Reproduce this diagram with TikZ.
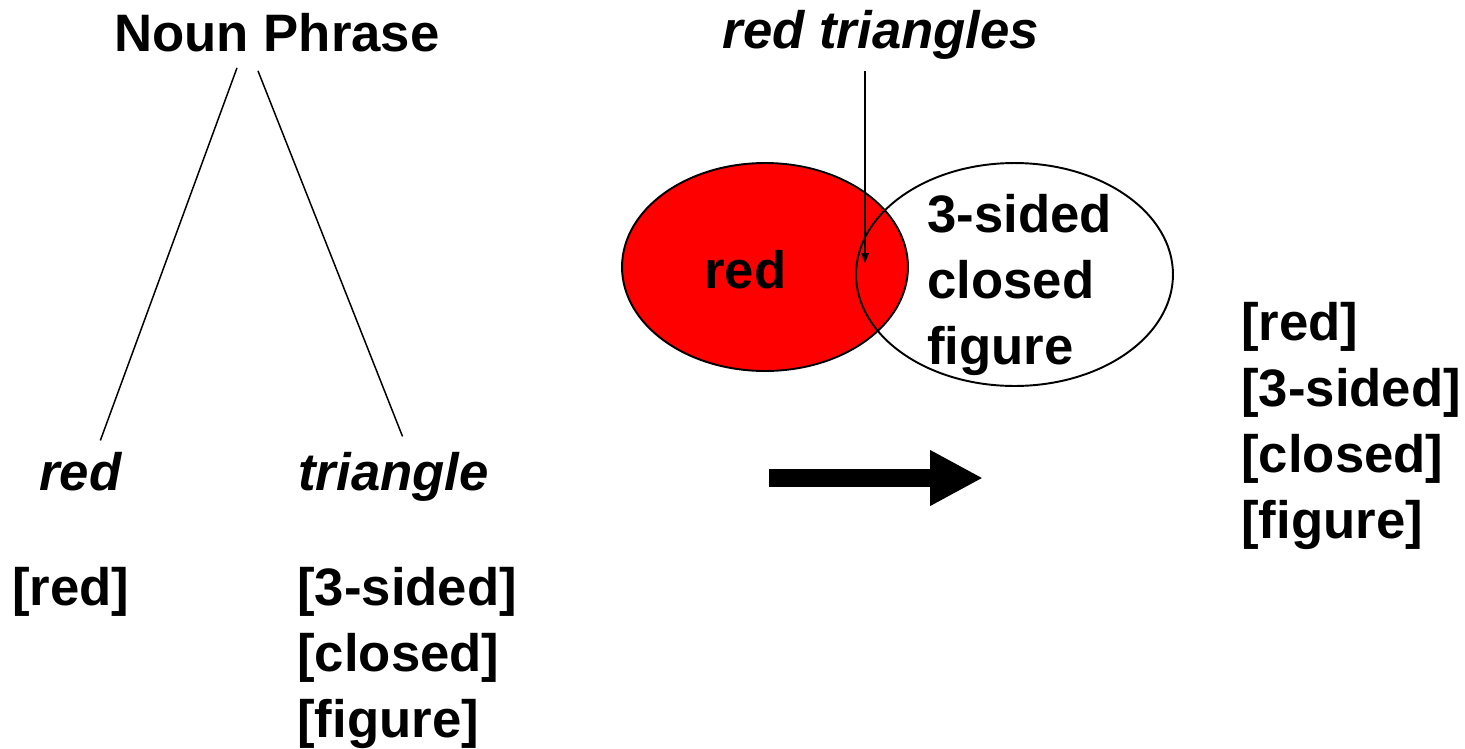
\documentclass[tikz,border=0pt]{standalone}
\usepackage{fontspec}
\setmainfont{Liberation Sans}
\usepackage{tikz}
\usetikzlibrary{arrows.meta}
\usetikzlibrary{calc}
\usetikzlibrary{shapes.geometric}

\tikzset{
  word/.style={inner sep=0pt,font=\fontsize{30}{37.4}\selectfont\bfseries},
  cat/.style={word,font=\fontsize{30}{37.4}\selectfont\bfseries\itshape},
  feats/.style={word,align=left,anchor=base west},
  branch/.style={line width=0.85pt},
  set/.style={ellipse,draw,line width=1.1pt,inner sep=0pt}
}

\begin{document}
\begin{tikzpicture}[x=0.02cm,y=-0.02cm]
    \useasboundingbox (0,0) rectangle (1465,748);
    % tree
    \node[word,anchor=base] (np) at (277,51) {Noun Phrase};
    \node[cat,anchor=base west] (adj) at (39,490) {red};
    \node[cat,anchor=base west] (noun) at (298,490) {triangle};
    \node[feats] (adjfeat) at (12,605) {[red]};
    \node[feats] (nounfeat) at (297,737) {[3-sided]\\{[closed]}\\{[figure]}};
    \draw[branch] ($(np.south)+(-40,16)$) -- ($(adj.north)+(20,-11)$);
    \draw[branch] ($(np.south)+(-19,19)$) -- ($(noun.north)+(9,-15)$);
    % sets
    \node[set,fill=red,minimum width=5.72cm,minimum height=4.16cm] (redset) at (765,267) {};
    \node[set,minimum width=6.34cm,minimum height=4.46cm] (sideset) at (1014.5,274.5) {};
    \node[word,anchor=base west] (redlbl) at (704,288) {red};
    \node[feats] (sidelbl) at (927,364) {3-sided\\closed\\figure};
    \node[cat,anchor=base] (rt) at (881,48) {red triangles};
    \coordinate (overlap) at (865,263);
    \draw[line width=0.8pt,-{Triangle[length=0.2cm,width=0.15cm]}] ($(rt.south -| overlap)+(0,12)$) -- (overlap);
    % result
    \coordinate (bigfrom) at (769,478);
    \coordinate (bigto) at (983,478);
    \draw[line width=0.36cm,-{Triangle[length=1.06cm,width=1.04cm]}] (bigfrom) -- (bigto);
    \node[feats] (npfeat) at (1241,538) {[red]\\{[3-sided]}\\{[closed]}\\{[figure]}};
\end{tikzpicture}
\end{document}
